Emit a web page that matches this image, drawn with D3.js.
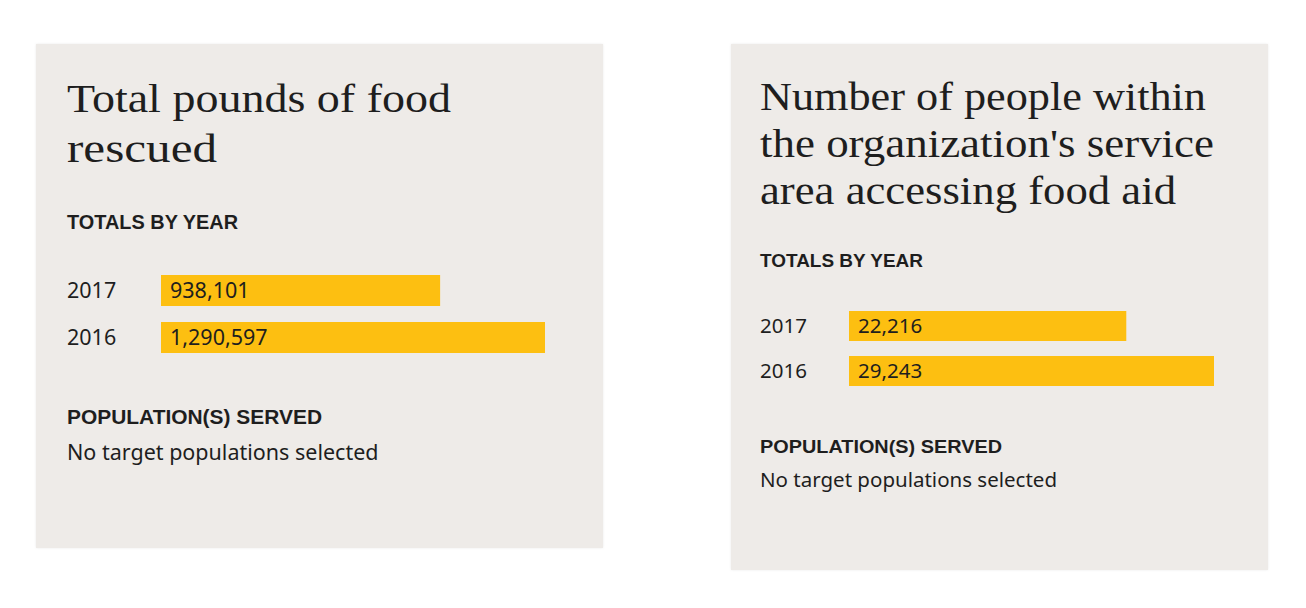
<!DOCTYPE html>
<html><head><meta charset="utf-8">
<script src="https://cdn.jsdelivr.net/npm/d3@7"></script>
<style>
html,body{margin:0;padding:0;background:#fff;}
svg{display:block;}
</style></head>
<body>
<svg id="c" width="1306" height="608"></svg>
<script>
// ---- data ----
const years = ["2017", "2016"];
const poundsRescued = [938101, 1290597];
const peopleAccessing = [22216, 29243];
const titleLeft = ["Total pounds of food", "rescued"];
const titleRight = ["Number of people within", "the organization's service", "area accessing food aid"];
const sectionLabels = ["TOTALS BY YEAR", "POPULATION(S) SERVED"];
const populationsText = "No target populations selected";

const fmt = d3.format(",");
const svg = d3.select("#c");

const panels = [
  {title: titleLeft, values: poundsRescued,
   box: [36, 44, 567, 504], tx: 67, titleBase: 112, titleLH: 50, titleSize: 41,
   titleW: [384, 150],
   totalsBase: 229, barX: 161, barW: 384, rowTop: 275, rowStep: 47, barH: 31,
   popBase: 424, noneBase: 460, fs: 21.5, hs: 20,
   widths: {totals: 171, pop: 255, none: 312}},
  {title: titleRight, values: peopleAccessing,
   box: [731, 44, 537, 526], tx: 760, titleBase: 110, titleLH: 47, titleSize: 39,
   titleW: [446, 454, 416],
   totalsBase: 267, barX: 849, barW: 365, rowTop: 311, rowStep: 45, barH: 30,
   popBase: 453, noneBase: 487, fs: 20.5, hs: 19,
   widths: {totals: 163, pop: 242, none: 297}}
];

const defs = svg.append("defs");
const f = defs.append("filter").attr("id","sh").attr("x","-5%").attr("y","-5%").attr("width","110%").attr("height","110%");
f.append("feDropShadow").attr("dx",0).attr("dy",0).attr("stdDeviation",1.2).attr("flood-color","#000").attr("flood-opacity",0.08);

const serif = "'Liberation Serif', 'DejaVu Serif', serif";
const sans = "'Noto Sans', 'Liberation Sans', sans-serif";
const sansBold = "'Liberation Sans', 'Noto Sans', sans-serif";
const ink = "#1e1e1e";

function fit(sel, w){
  sel.attr("textLength", w).attr("lengthAdjust", "spacingAndGlyphs");
}

panels.forEach(p => {
  const g = svg.append("g");
  g.append("rect").attr("x", p.box[0]).attr("y", p.box[1]).attr("width", p.box[2]).attr("height", p.box[3])
    .attr("fill", "#eeebe8").attr("filter","url(#sh)");

  p.title.forEach((line, i) => {
    const t = g.append("text").attr("x", p.tx).attr("y", p.titleBase + i * p.titleLH)
      .attr("font-family", serif).attr("font-size", p.titleSize).attr("fill", ink)
      .text(line);
    fit(t, p.titleW[i]);
  });

  fit(g.append("text").attr("x", p.tx).attr("y", p.totalsBase)
    .attr("font-family", sansBold).attr("font-weight", "bold").attr("font-size", p.hs)
    .attr("fill", ink).text(sectionLabels[0]), p.widths.totals);

  const x = d3.scaleLinear().domain([0, d3.max(p.values)]).range([0, p.barW]);
  const gap = p.rowStep - p.barH;
  const y = d3.scaleBand().domain(years)
    .range([p.rowTop, p.rowTop + p.rowStep * years.length - gap])
    .paddingInner(gap / p.rowStep).paddingOuter(0);

  const rows = g.selectAll("g.row").data(years.map((yr, i) => ({yr, v: p.values[i]})))
    .join("g").attr("class", "row");

  rows.append("rect")
    .attr("x", p.barX).attr("y", d => y(d.yr))
    .attr("width", d => x(d.v)).attr("height", y.bandwidth())
    .attr("fill", "#fdbf11");

  rows.append("text")
    .attr("x", p.tx).attr("y", d => y(d.yr) + y.bandwidth() / 2 + p.fs * 0.36)
    .attr("font-family", sans).attr("font-size", p.fs).attr("fill", ink)
    .text(d => d.yr);

  rows.append("text")
    .attr("x", p.barX + 9).attr("y", d => y(d.yr) + y.bandwidth() / 2 + p.fs * 0.36)
    .attr("font-family", sans).attr("font-size", p.fs).attr("fill", ink)
    .text(d => fmt(d.v));

  fit(g.append("text").attr("x", p.tx).attr("y", p.popBase)
    .attr("font-family", sansBold).attr("font-weight", "bold").attr("font-size", p.hs)
    .attr("fill", ink).text(sectionLabels[1]), p.widths.pop);

  g.append("text").attr("x", p.tx).attr("y", p.noneBase)
    .attr("font-family", sans).attr("font-size", p.fs).attr("fill", ink)
    .text(populationsText);
});
</script>
</body></html>
